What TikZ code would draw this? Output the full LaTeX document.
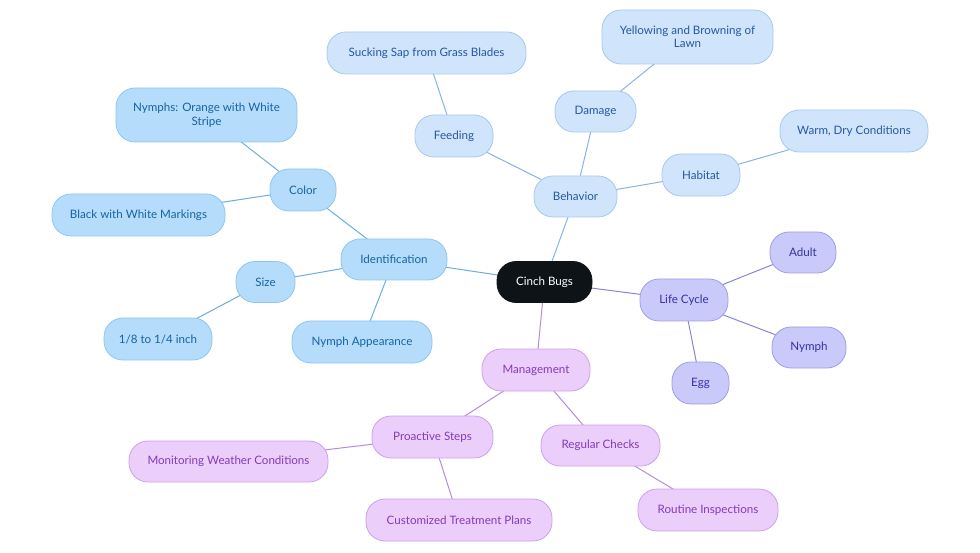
\documentclass[tikz,border=0pt]{standalone}
\usepackage{fontspec}
\setmainfont{Lato}
\usetikzlibrary{backgrounds}
\definecolor{rootfill}{HTML}{0E1318}
\definecolor{idfill}{HTML}{B5DDFB}
\definecolor{iddraw}{HTML}{8EC6EE}
\definecolor{idtext}{HTML}{1762A2}
\definecolor{idline}{HTML}{6AADDF}
\definecolor{befill}{HTML}{D0E4FB}
\definecolor{bedraw}{HTML}{A8C8EE}
\definecolor{betext}{HTML}{2658A2}
\definecolor{beline}{HTML}{8AB3E4}
\definecolor{lcfill}{HTML}{C9C9FA}
\definecolor{lcdraw}{HTML}{A09EE6}
\definecolor{lctext}{HTML}{3433A2}
\definecolor{lcline}{HTML}{8A84D6}
\definecolor{mgfill}{HTML}{ECCEFB}
\definecolor{mgdraw}{HTML}{C9A2EA}
\definecolor{mgtext}{HTML}{843ABA}
\definecolor{mgline}{HTML}{B58BDF}
\tikzset{
  box/.style={rounded corners=19pt, line width=0.8pt, align=center, inner sep=0pt,
    font=\fontsize{11.6}{13.5}\selectfont},
  rootbox/.style={box, fill=rootfill, draw=rootfill, text=white},
  idbox/.style={box, fill=idfill, draw=iddraw, text=idtext},
  bebox/.style={box, fill=befill, draw=bedraw, text=betext},
  lcbox/.style={box, fill=lcfill, draw=lcdraw, text=lctext},
  mgbox/.style={box, fill=mgfill, draw=mgdraw, text=mgtext},
  idedge/.style={draw=idline, line width=1pt},
  beedge/.style={draw=beline, line width=1pt},
  lcedge/.style={draw=lcline, line width=1pt},
  mgedge/.style={draw=mgline, line width=1pt},
}
\begin{document}
\begin{tikzpicture}[x=1pt,y=-1pt]
\useasboundingbox (0,0) rectangle (980,553);
% root
\node[rootbox, minimum width=95pt, minimum height=41pt] (root) at (544.5,282) {Cinch Bugs};
% identification branch
\node[idbox, minimum width=106pt, minimum height=41pt] (ident) at (394,259.5) {Identification};
\node[idbox, minimum width=66pt, minimum height=42pt] (color) at (303,190) {Color};
\node[idbox, minimum width=181pt, minimum height=54pt] (nymphs) at (206.5,115) {Nymphs: Orange with White\\Stripe};
\node[idbox, minimum width=173pt, minimum height=42pt] (black) at (138.5,215) {Black with White Markings};
\node[idbox, minimum width=59pt, minimum height=41pt] (size) at (265.5,282) {Size};
\node[idbox, minimum width=108pt, minimum height=42pt] (inch) at (158,339) {1/8 to 1/4 inch};
\node[idbox, minimum width=140pt, minimum height=42pt] (nymphapp) at (362,342) {Nymph Appearance};
% behavior branch
\node[bebox, minimum width=83pt, minimum height=41pt] (behav) at (575.5,196.5) {Behavior};
\node[bebox, minimum width=78pt, minimum height=42pt] (feed) at (454,136) {Feeding};
\node[bebox, minimum width=199pt, minimum height=42pt] (sap) at (426.5,53) {Sucking Sap from Grass Blades};
\node[bebox, minimum width=81pt, minimum height=41pt] (damage) at (595.5,111.5) {Damage};
\node[bebox, minimum width=171pt, minimum height=54pt] (yellow) at (687.5,37) {Yellowing and Browning of\\Lawn};
\node[bebox, minimum width=78pt, minimum height=42pt] (habitat) at (701,175) {Habitat};
\node[bebox, minimum width=148pt, minimum height=42pt] (warm) at (854,131) {Warm, Dry Conditions};
% life cycle branch
\node[lcbox, minimum width=88pt, minimum height=42pt] (life) at (684,300) {Life Cycle};
\node[lcbox, minimum width=66pt, minimum height=41pt] (adult) at (803,252.5) {Adult};
\node[lcbox, minimum width=74pt, minimum height=41pt] (nymph) at (809,347.5) {Nymph};
\node[lcbox, minimum width=57pt, minimum height=42pt] (egg) at (700.5,383) {Egg};
% management branch
\node[mgbox, minimum width=108pt, minimum height=42pt] (manage) at (536,370) {Management};
\node[mgbox, minimum width=121pt, minimum height=42pt] (proact) at (432.5,437) {Proactive Steps};
\node[mgbox, minimum width=199pt, minimum height=41pt] (weather) at (228.5,461.5) {Monitoring Weather Conditions};
\node[mgbox, minimum width=186pt, minimum height=42pt] (custom) at (459,520) {Customized Treatment Plans};
\node[mgbox, minimum width=119pt, minimum height=41pt] (regular) at (600.5,445.5) {Regular Checks};
\node[mgbox, minimum width=140pt, minimum height=42pt] (routine) at (708,510) {Routine Inspections};
\begin{scope}[on background layer]
\draw[idedge] (root.center) -- (ident.center);
\draw[idedge] (ident.center) -- (color.center);
\draw[idedge] (color.center) -- (nymphs.center);
\draw[idedge] (color.center) -- (black.center);
\draw[idedge] (ident.center) -- (size.center);
\draw[idedge] (size.center) -- (inch.center);
\draw[idedge] (ident.center) -- (nymphapp.center);
\draw[beedge] (root.center) -- (behav.center);
\draw[beedge] (behav.center) -- (feed.center);
\draw[beedge] (feed.center) -- (sap.center);
\draw[beedge] (behav.center) -- (damage.center);
\draw[beedge] (damage.center) -- (yellow.center);
\draw[beedge] (behav.center) -- (habitat.center);
\draw[beedge] (habitat.center) -- (warm.center);
\draw[lcedge] (root.center) -- (life.center);
\draw[lcedge] (life.center) -- (adult.center);
\draw[lcedge] (life.center) -- (nymph.center);
\draw[lcedge] (life.center) -- (egg.center);
\draw[mgedge] (root.center) -- (manage.center);
\draw[mgedge] (manage.center) -- (proact.center);
\draw[mgedge] (proact.center) -- (weather.center);
\draw[mgedge] (proact.center) -- (custom.center);
\draw[mgedge] (manage.center) -- (regular.center);
\draw[mgedge] (regular.center) -- (routine.center);
\end{scope}
\end{tikzpicture}
\end{document}
